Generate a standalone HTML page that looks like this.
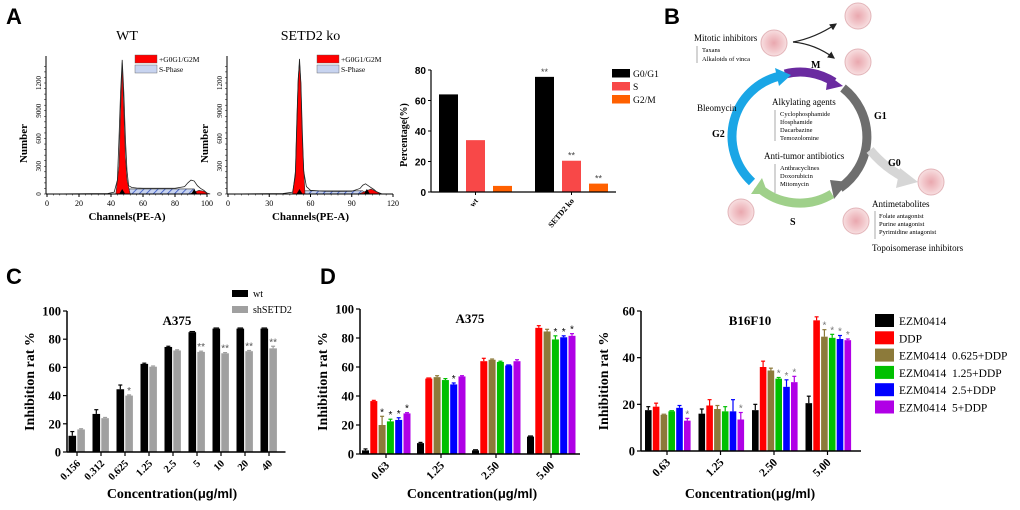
<!DOCTYPE html>
<html><head><meta charset="utf-8">
<style>
html,body{margin:0;padding:0;background:#fff;}
svg{display:block;}
.serif{font-family:"Liberation Serif",serif;}
.sans{font-family:"Liberation Sans",sans-serif;}
.pre{white-space:pre;}
</style></head>
<body>
<svg id="fig" width="1020" height="510" viewBox="0 0 1020 510" xmlns="http://www.w3.org/2000/svg">
<defs>
<pattern id="hatch" width="5" height="5" patternUnits="userSpaceOnUse" patternTransform="rotate(45)">
<rect width="5" height="5" fill="#c8d4f0"/><line x1="0" y1="0" x2="0" y2="5" stroke="#3050c0" stroke-width="1.6"/>
</pattern>
<radialGradient id="cellg"><stop offset="0" stop-color="#e9a7ae"/><stop offset="0.6" stop-color="#f2c7cb"/><stop offset="1" stop-color="#f7dfe1"/></radialGradient>
<marker id="arr" markerWidth="6" markerHeight="6" refX="5" refY="3" orient="auto"><path d="M0,0 L6,3 L0,6 Z" fill="#222"/></marker>
</defs>

<text x="6" y="24" class="sans" font-weight="bold" font-size="22">A</text>
<text x="664" y="24" class="sans" font-weight="bold" font-size="22">B</text>
<text x="6" y="284" class="sans" font-weight="bold" font-size="22">C</text>
<text x="320" y="284" class="sans" font-weight="bold" font-size="22">D</text>

<g id="histWT"></g>
<g id="histKO"></g>
<g id="barA"></g>

<g id="panelB" class="serif">
  <path d="M 785 74 A 62 62 0 0 1 834 82" fill="none" stroke="#6a2aa0" stroke-width="9"/>
  <path d="M 828 75 L 843 86 L 826 90 Z" fill="#6a2aa0"/>
  <path d="M 843 88 A 62 62 0 0 1 840 188" fill="none" stroke="#6e6e6e" stroke-width="9"/>
  <path d="M 848 182 L 834 199 L 830 180 Z" fill="#6e6e6e"/>
  <path d="M 832 194 A 62 62 0 0 1 757 186" fill="none" stroke="#9fd08a" stroke-width="9"/>
  <path d="M 762 178 L 751 194 L 768 194 Z" fill="#9fd08a"/>
  <path d="M 752 182 A 62 62 0 0 1 780 76" fill="none" stroke="#1aa6e6" stroke-width="9"/>
  <path d="M 775 68 L 791 75 L 779 86 Z" fill="#1aa6e6"/>
  <path d="M 870 150 Q 885 168 905 178" fill="none" stroke="#d6d6d6" stroke-width="9"/>
  <path d="M 900 168 L 918 182 L 896 188 Z" fill="#d6d6d6"/>
  <path d="M 793 42 Q 815 38 836 24" fill="none" stroke="#222" stroke-width="1.2" marker-end="url(#arr)"/>
  <path d="M 793 42 Q 815 44 834 58" fill="none" stroke="#222" stroke-width="1.2" marker-end="url(#arr)"/>
  <g>
    <circle cx="858" cy="16" r="13" fill="url(#cellg)" stroke="#e3b5b9"/>
    <circle cx="858" cy="62" r="13" fill="url(#cellg)" stroke="#e3b5b9"/>
    <circle cx="774" cy="43" r="13" fill="url(#cellg)" stroke="#e3b5b9"/>
    <circle cx="931" cy="182" r="13" fill="url(#cellg)" stroke="#e3b5b9"/>
    <circle cx="856" cy="221" r="13" fill="url(#cellg)" stroke="#e3b5b9"/>
    <circle cx="741" cy="212" r="13" fill="url(#cellg)" stroke="#e3b5b9"/>
  </g>
  <text x="694" y="41" font-size="9">Mitotic inhibitors</text>
  <line x1="697" y1="46" x2="697" y2="63" stroke="#aaa"/>
  <text x="702" y="52" font-size="6.5">Taxans</text>
  <text x="702" y="61" font-size="6.5">Alkaloids of vinca</text>
  <text x="811" y="68" font-size="10" font-weight="bold">M</text>
  <text x="874" y="119" font-size="10" font-weight="bold">G1</text>
  <text x="888" y="166" font-size="10" font-weight="bold">G0</text>
  <text x="790" y="225" font-size="10" font-weight="bold">S</text>
  <text x="712" y="137" font-size="10" font-weight="bold">G2</text>
  <text x="697" y="111" font-size="9">Bleomycin</text>
  <text x="772" y="105" font-size="9">Alkylating agents</text>
  <line x1="775" y1="110" x2="775" y2="141" stroke="#aaa"/>
  <text x="780" y="116" font-size="6.5">Cyclophosphamide</text>
  <text x="780" y="124" font-size="6.5">Ifosphamide</text>
  <text x="780" y="132" font-size="6.5">Dacarbazine</text>
  <text x="780" y="140" font-size="6.5">Temozolomine</text>
  <text x="764" y="159" font-size="9">Anti-tumor antibiotics</text>
  <line x1="775" y1="164" x2="775" y2="193" stroke="#aaa"/>
  <text x="780" y="170" font-size="6.5">Anthracyclines</text>
  <text x="780" y="178" font-size="6.5">Doxorubicin</text>
  <text x="780" y="186" font-size="6.5">Mitomycin</text>
  <text x="872" y="207" font-size="9">Antimetabolites</text>
  <line x1="875" y1="211" x2="875" y2="239" stroke="#aaa"/>
  <text x="879" y="218" font-size="6.5">Folate antagonist</text>
  <text x="879" y="226" font-size="6.5">Purine antagonist</text>
  <text x="879" y="234" font-size="6.5">Pyrimidine antagonist</text>
  <text x="872" y="251" font-size="9">Topoisomerase inhibitors</text>
</g>

<g id="chartC"></g>
<g id="chartD1"></g>
<g id="chartD2"></g>
<g id="legendD"></g>
</svg>

<script>
// ---------- data ----------
const wtCh  = [0,38,42,44,45,46,47,48,49,50,51,53,56,60,70,80,86,88,90,92,94,96,98,100,102];
const wtCnt = [0,5,20,150,600,1100,1450,1100,600,250,90,70,65,62,62,62,80,120,150,140,90,60,40,10,0];
const koCh  = [0,40,47,49,50,51,52,53,54,55,57,60,70,80,90,96,98,100,102,104,106,108,112];
const koCnt = [0,5,20,200,700,1200,1460,1200,700,250,80,40,30,28,30,60,95,110,90,70,50,25,0];
const wtRed1 = [[43,0],[45,300],[46,900],[47,1420],[48,900],[49,400],[50,150],[52,0]];
const wtS = [[50,0],[51,55],[92,55],[93,0]];
const wtRed2 = [[89,0],[92,20],[95,40],[98,30],[101,0]];
const koRed1 = [[47,0],[49,250],[50,800],[51,1250],[52,1430],[53,1200],[54,600],[56,0]];
const koS = [[54,0],[56,35],[98,35],[100,0]];
const koRed2 = [[95,0],[100,30],[104,55],[108,25],[112,0]];
const phaseNames = ["G0/G1","S","G2/M"];
const phaseCats = ["wt","SETD2 ko"];
const phaseWT = [64,34,4];
const phaseKO = [75.5,20.5,5.5];
const phaseKOStars = ["**","**","**"];
const cCats = ["0.156","0.312","0.625","1.25","2.5","5","10","20","40"];
const cWT = [11.5,27,44.5,62.5,74.5,85,87.5,87.5,87.5];
const cWTerr = [3,3,3,0.5,0.5,0,0,0,0];
const cSH = [16,24,40,60.5,72,71,70,71.5,73.5];
const cSHerr = [0.5,0.5,0.5,0.5,0.5,0.5,0.5,0.5,1.5];
const cStars = ["","","*","","","**","**","**","**"];
const cTicks = [0,20,40,60,80,100];
const dCats = ["0.63","1.25","2.50","5.00"];
const dSeries = ["EZM0414","DDP","EZM0414  0.625+DDP","EZM0414  1.25+DDP","EZM0414  2.5+DDP","EZM0414  5+DDP"];
const aEZM  = [2.5,7.5,2.5,12];
const aDDP  = [36.5,52,64,87];
const a0625 = [20,53,65,84.5];
const a125  = [22.5,51,63.5,79];
const a25   = [23.5,48,61,80.5];
const a5    = [28,53.5,64,81.5];
const aErrEZM=[1,0.5,0,0], aErrDDP=[0.5,0,2,1.5], aErr0625=[6,1,0.5,1.5], aErr125=[1.5,1,0.5,2.5], aErr25=[1.5,1,0,1], aErr5=[0.5,0.5,1,1.5];
const aStars = [["","","*","*","*","*"],["","","","","*",""],["","","","","",""],["","","","*","*","*"]];
const bEZM  = [17.5,16,17.5,20.5];
const bDDP  = [19,19.5,36,56];
const b0625 = [15.5,18,34.5,49];
const b125  = [17,17,31,48.5];
const b25   = [18.5,17,27.5,48];
const b5    = [13,13.5,29.5,47.5];
const bErrEZM=[1.5,2,2.5,3], bErrDDP=[1.5,2.5,2.5,1.5], bErr0625=[0,1.5,1,3], bErr125=[0,2,0.5,1.5], bErr25=[1,5,3,1.5], bErr5=[1,3,2.5,0.5];
const bStars = [["","","","","","*"],["","","","","","*"],["","","","*","*","*"],["","","*","*","*","*"]];
const aTicks=[0,20,40,60,80,100], bTicks=[0,20,40,60];

const NS="http://www.w3.org/2000/svg";
function mk(parent,tag,attrs,text){const e=document.createElementNS(NS,tag);for(const k in attrs)e.setAttribute(k,attrs[k]);if(text!==undefined)e.textContent=text;parent.appendChild(e);return e;}

function histogram(g,cfg){
  const sx=c=>cfg.x0+(c-cfg.c0)*(cfg.x1-cfg.x0)/(cfg.c1-cfg.c0);
  const sy=v=>cfg.y0-v*(cfg.y0-cfg.yTop)/1200;
  const t=mk(g,'text',{x:(cfg.x0+cfg.x1)/2,y:cfg.y0-154,'text-anchor':'middle','font-size':14,class:'serif'},cfg.title);
  
  
  const poly=(pts,fill,name)=>{const d='M'+pts.map(p=>sx(p[0])+','+sy(p[1])).join(' L')+' Z';const p=mk(g,'path',{d:d,fill:fill,stroke:'#333','stroke-width':0.6});
    
    };
  poly(cfg.s,'url(#hatch)','s-phase-area');
  poly(cfg.r1,'#ff0000','g0g1-peak');
  poly(cfg.r2,'#ff0000','g2m-peak');
  const d='M'+cfg.ch.map((c,i)=>sx(c)+','+sy(cfg.cnt[i])).join(' L');
  const ol=mk(g,'path',{d:d,fill:'none',stroke:'#222','stroke-width':0.8});
  
  
  mk(g,'line',{x1:cfg.x0-1,y1:cfg.y0,x2:cfg.x1,y2:cfg.y0,stroke:'#000','stroke-width':1});
  mk(g,'line',{x1:cfg.x0-1,y1:cfg.y0,x2:cfg.x0-1,y2:cfg.yTop-27,stroke:'#000','stroke-width':1});
  cfg.xt.forEach(v=>{mk(g,'line',{x1:sx(v),y1:cfg.y0,x2:sx(v),y2:cfg.y0+3,stroke:'#000'});
    mk(g,'text',{x:sx(v),y:cfg.y0+12,'text-anchor':'middle','font-size':8,class:'serif'},v);});
  for(let c=cfg.c0;c<=cfg.c1;c+=cfg.minor)mk(g,'line',{x1:sx(c),y1:cfg.y0,x2:sx(c),y2:cfg.y0+1.5,stroke:'#000','stroke-width':0.5});
  [["0",0],["300",300],["600",600],["9000",900],["1200",1200]].forEach(([l,v])=>{
    mk(g,'text',{x:0,y:0,'text-anchor':'middle','font-size':7,class:'serif',transform:`translate(${cfg.x0-6},${sy(v)}) rotate(-90)`},l);});
  for(let v=0;v<=1400;v+=60)mk(g,'line',{x1:cfg.x0-1,y1:sy(v),x2:cfg.x0-3,y2:sy(v),stroke:'#000','stroke-width':0.5});
  const yl=mk(g,'text',{x:0,y:0,'text-anchor':'middle','font-size':11,'font-weight':'bold',class:'serif',transform:`translate(${cfg.x0-20},${(cfg.y0+cfg.yTop)/2+5}) rotate(-90)`},'Number');
  
  
  const xl=mk(g,'text',{x:(cfg.x0+cfg.x1)/2,y:cfg.y0+26,'text-anchor':'middle','font-size':11,'font-weight':'bold',class:'serif'},'Channels(PE-A)');
  
  
  cfg.marks.forEach(c=>mk(g,'path',{d:`M${sx(c)-3},${cfg.y0} L${sx(c)+3},${cfg.y0} L${sx(c)},${cfg.y0-5} Z`,fill:'#000'}));
  const lx=cfg.legendX;
  const l1=mk(g,'rect',{x:lx,y:55,width:22,height:8,fill:'#ff0000',stroke:'#555','stroke-width':0.4});
  
  
  mk(g,'text',{x:lx+24,y:62,'font-size':7.5,class:'serif'},'+G0G1/G2M');
  const l2=mk(g,'rect',{x:lx,y:65,width:22,height:8,fill:'#c8d4f0',stroke:'#555','stroke-width':0.4});
  
  
  mk(g,'text',{x:lx+24,y:72,'font-size':7.5,class:'serif'},'S-Phase');
}
histogram(document.getElementById('histWT'),{title:'WT',x0:47,x1:207,c0:0,c1:100,y0:194,yTop:83,ch:wtCh,cnt:wtCnt,r1:wtRed1,s:wtS,r2:wtRed2,xt:[0,20,40,60,80,100],minor:4,marks:[47,92],legendX:135});
histogram(document.getElementById('histKO'),{title:'SETD2 ko',x0:228,x1:393,c0:0,c1:120,y0:194,yTop:83,ch:koCh,cnt:koCnt,r1:koRed1,s:koS,r2:koRed2,xt:[0,30,60,90,120],minor:5,marks:[52,101],legendX:317});

(function(){
  const g=document.getElementById('barA');
  const x0=431,x1=616,y0=192,yTop=70;
  const sy=v=>y0-v*(y0-yTop)/80;
  const cols=['#000000','#f84848','#ff6000'];
  const groupStart=[439,535], pitch=27, bw=19;
  [phaseWT,phaseKO].forEach((arr,gi)=>{
    arr.forEach((v,si)=>{
      const r=mk(g,'rect',{x:groupStart[gi]+si*pitch,y:sy(v),width:bw,height:y0-sy(v),fill:cols[si]});
      
      
      if(gi===1) mk(g,'text',{x:groupStart[gi]+si*pitch+bw/2,y:sy(v)-2,'text-anchor':'middle','font-size':9,fill:'#444',class:'sans'},phaseKOStars[si]);
    });
    const cx=groupStart[gi]+pitch+bw/2;
    mk(g,'line',{x1:cx,y1:y0,x2:cx,y2:y0+3,stroke:'#000'});
    mk(g,'text',{x:0,y:0,'text-anchor':'end','font-size':8,'font-weight':'bold',class:'serif',transform:`translate(${cx+3},${y0+9}) rotate(-50)`},phaseCats[gi]);
  });
  mk(g,'line',{x1:x0,y1:y0,x2:x1,y2:y0,stroke:'#000','stroke-width':1.2});
  mk(g,'line',{x1:x0,y1:y0,x2:x0,y2:yTop,stroke:'#000','stroke-width':1.2});
  [0,20,40,60,80].forEach(v=>{mk(g,'line',{x1:x0,y1:sy(v),x2:x0-3,y2:sy(v),stroke:'#000'});
    mk(g,'text',{x:x0-5,y:sy(v)+4,'text-anchor':'end','font-size':10,'font-weight':'bold',class:'sans'},v);});
  const yl=mk(g,'text',{x:0,y:0,'text-anchor':'middle','font-size':10,'font-weight':'bold',class:'serif',transform:`translate(${x0-24},${(y0+yTop)/2+4}) rotate(-90)`},'Percentage(%)');
  
  
  phaseNames.forEach((n,i)=>{const r=mk(g,'rect',{x:612,y:69+i*13,width:18,height:8.5,fill:cols[i]});
    
    
    mk(g,'text',{x:633,y:77+i*13,'font-size':9.5,class:'serif'},n);});
})();

function grouped(g,cfg){
  const sy=v=>cfg.y0-v*(cfg.y0-cfg.yTop)/cfg.max;
  cfg.series.forEach((arr,si)=>{
    arr.forEach((v,gi)=>{
      const x=cfg.start+gi*cfg.step+si*cfg.pitch;
      const r=mk(g,'rect',{x:x,y:sy(v),width:cfg.bw,height:cfg.y0-sy(v),fill:cfg.colors[si]});
      
      
      const e=cfg.errs[si][gi];
      if(e>0){const cx=x+cfg.bw/2;mk(g,'line',{x1:cx,y1:sy(v),x2:cx,y2:sy(v+e),stroke:cfg.colors[si],'stroke-width':1.2});
        mk(g,'line',{x1:cx-2,y1:sy(v+e),x2:cx+2,y2:sy(v+e),stroke:cfg.colors[si],'stroke-width':1.2});}
      else mk(g,'line',{x1:x+1,y1:sy(v)-0.6,x2:x+cfg.bw-1,y2:sy(v)-0.6,stroke:cfg.colors[si],'stroke-width':1.2});
      const st=cfg.stars(si,gi);
      if(st) mk(g,'text',{x:x+cfg.bw/2,y:sy(v+e)-1,'text-anchor':'middle','font-size':cfg.starSize,fill:cfg.starColor,class:'sans'},st);
    });
  });
  const xEnd=cfg.start+cfg.cats.length*cfg.step-cfg.gapEnd;
  mk(g,'line',{x1:cfg.x0,y1:cfg.y0,x2:xEnd,y2:cfg.y0,stroke:'#000','stroke-width':1.5});
  mk(g,'line',{x1:cfg.x0,y1:cfg.y0,x2:cfg.x0,y2:cfg.yTop,stroke:'#000','stroke-width':1.5});
  cfg.ticks.forEach(v=>{mk(g,'line',{x1:cfg.x0,y1:sy(v),x2:cfg.x0-4,y2:sy(v),stroke:'#000','stroke-width':1.2});
    mk(g,'text',{x:cfg.x0-6,y:sy(v)+4.5,'text-anchor':'end','font-size':12.5,'font-weight':'bold',class:'serif'},v);});
  cfg.cats.forEach((c,gi)=>{
    const cx=cfg.start+gi*cfg.step+cfg.centerOff;
    mk(g,'line',{x1:cx,y1:cfg.y0,x2:cx,y2:cfg.y0+4,stroke:'#000','stroke-width':1.2});
    mk(g,'text',{x:0,y:0,'text-anchor':'end','font-size':cfg.labSize,'font-weight':'bold',class:'serif',transform:`translate(${cx+4},${cfg.y0+12}) rotate(-45)`},c);
  });
  const t=mk(g,'text',{x:cfg.titleX,y:cfg.yTop+14,'text-anchor':'middle','font-size':13,'font-weight':'bold',class:'serif'},cfg.title);
  
  
  const yl=mk(g,'text',{x:0,y:0,'text-anchor':'middle','font-size':14,'font-weight':'bold',class:'serif',transform:`translate(${cfg.x0-33},${(cfg.y0+cfg.yTop)/2}) rotate(-90)`},'Inhibition rat %');
  
  
  const xt=mk(g,'text',{x:cfg.xTitleX,y:498,'text-anchor':'middle','font-size':14,'font-weight':'bold',class:'serif'});
  
  
  mk(xt,'tspan',{},'Concentration(');
  mk(xt,'tspan',{class:'sans','font-size':13},'μg/ml');
  mk(xt,'tspan',{},')');
}

grouped(document.getElementById('chartC'),{x0:67,y0:452,yTop:311,max:100,start:68.5,step:24,pitch:8.8,bw:7.6,gapEnd:-1,centerOff:8.5,
  series:[cWT,cSH],errs:[cWTerr,cSHerr],colors:['#000000','#a0a0a0'],names:['wt','shsetd2'],cats:cCats,
  stars:(si,gi)=>si===1?cStars[gi]:'',starSize:10,starColor:'#555',ticks:cTicks,title:'A375',titleX:177,labSize:10.5,xTitleX:172});
(function(){const g=document.getElementById('chartC');
  [['wt','#000'],['shSETD2','#a0a0a0']].forEach(([n,c],i)=>{const r=mk(g,'rect',{x:232,y:290+i*16,width:16,height:7,fill:c});
    
    
    mk(g,'text',{x:253,y:297+i*16,'font-size':10,class:'serif'},n);});})();

const dColors=['#000000','#ff0000','#8c7a3a','#00c000','#0000ff','#b000e6'];
const dNames=['ezm0414','ddp','ezm-0625-ddp','ezm-125-ddp','ezm-25-ddp','ezm-5-ddp'];
grouped(document.getElementById('chartD1'),{x0:360,y0:454,yTop:309,max:100,start:362,step:55,pitch:8.3,bw:7,gapEnd:2,centerOff:24,
  series:[aEZM,aDDP,a0625,a125,a25,a5],errs:[aErrEZM,aErrDDP,aErr0625,aErr125,aErr25,aErr5],colors:dColors,names:dNames,cats:dCats,
  stars:(si,gi)=>aStars[gi][si],starSize:10,starColor:'#000',ticks:aTicks,title:'A375',titleX:470,labSize:11.5,xTitleX:472});
grouped(document.getElementById('chartD2'),{x0:641,y0:451,yTop:311,max:60,start:645,step:53.5,pitch:7.8,bw:6.6,gapEnd:-2,centerOff:22,
  series:[bEZM,bDDP,b0625,b125,b25,b5],errs:[bErrEZM,bErrDDP,bErr0625,bErr125,bErr25,bErr5],colors:dColors,names:dNames,cats:dCats,
  stars:(si,gi)=>bStars[gi][si],starSize:10,starColor:'#777',ticks:bTicks,title:'B16F10',titleX:750,labSize:11.5,xTitleX:750});
(function(){const g=document.getElementById('legendD');
  dSeries.forEach((n,i)=>{const r=mk(g,'rect',{x:875,y:314+i*17.3,width:19,height:13,fill:dColors[i]});
    
    
    mk(g,'text',{x:899,y:325+i*17.3,'font-size':11.5,class:'serif pre'},n);});})();
</script>
</body></html>
